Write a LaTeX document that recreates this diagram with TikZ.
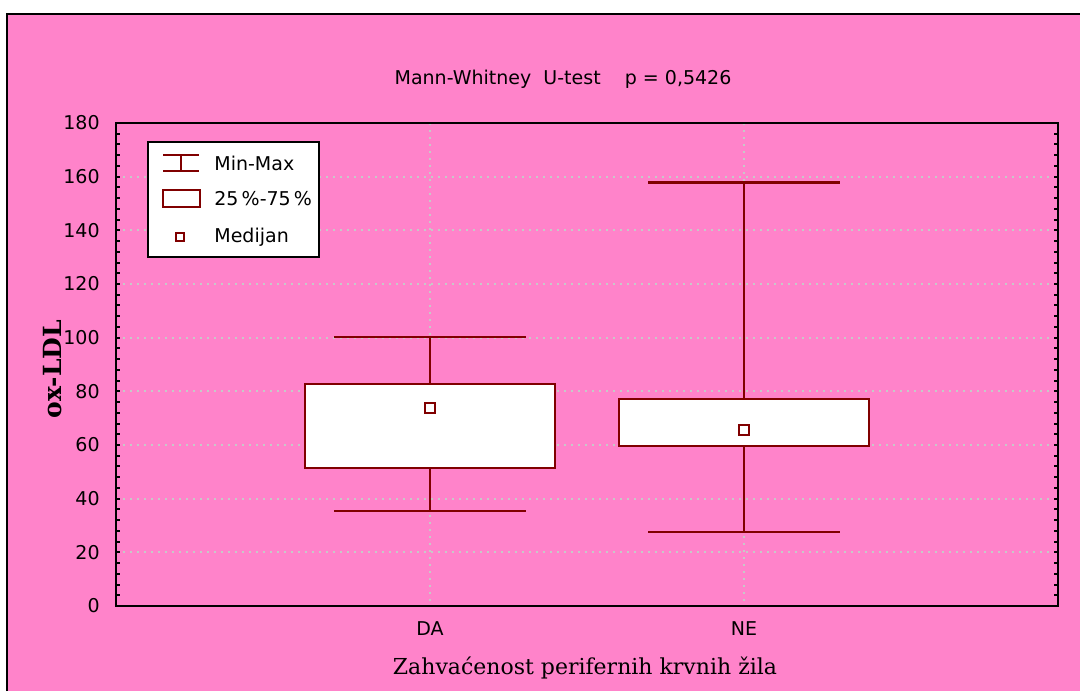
\documentclass[tikz,border=0pt]{standalone}
\usepackage{fontspec}
\setsansfont{DejaVu Sans}
\setmainfont{DejaVu Serif}
\usepackage{tikz}
\usetikzlibrary{positioning}
\definecolor{pinkbg}{RGB}{255,131,202}
\definecolor{boxred}{RGB}{128,0,0}
\definecolor{griddot}{RGB}{200,200,200}

\begin{document}
\begin{tikzpicture}[x=0.5pt,y=-0.5pt,
  declare function={yv(\v)=606-2.6833*\v;},
  lab/.style={font=\sffamily\fontsize{9.5}{9.5}\selectfont,inner sep=0pt},
  gridln/.style={griddot,line width=1pt,dash pattern=on 1pt off 2.5pt},
  boxln/.style={boxred,line width=1.1pt}]
\useasboundingbox (0,0) rectangle (1080,691);
\fill[white] (0,0) rectangle (1080,691);
\fill[pinkbg] (7,14) rectangle (1080,691);
\draw[line width=1.2pt] (7,691) -- (7,14) -- (1080,14);
% plot area corners
\coordinate (PA) at (116,123);
\coordinate (PB) at (1058,606);
% grid
\foreach \v in {20,40,...,160}
  \draw[gridln] (116,{yv(\v)}) -- (1058,{yv(\v)});
\foreach \xc in {430,744}
  \draw[gridln] (\xc,123) -- (\xc,606);
% boxes
\foreach \xc/\mn/\qa/\md/\qb/\mx in {430/35.4/51.4/73.8/82.7/100.2,744/27.6/59.6/65.6/77.1/157.8}{
  \draw[boxln] (\xc,{yv(\mn)}) -- (\xc,{yv(\mx)});
  \draw[boxln] (\xc-96,{yv(\mn)}) -- (\xc+96,{yv(\mn)});
  \draw[boxln] (\xc-96,{yv(\mx)}) -- (\xc+96,{yv(\mx)});
  \draw[boxln,fill=white] (\xc-125,{yv(\qa)}) rectangle (\xc+125,{yv(\qb)});
  \draw[boxln,fill=white] (\xc-5,{yv(\md)-5}) rectangle (\xc+5,{yv(\md)+5});
}
% legend
\draw[line width=0.9pt,fill=white] (148,142) rectangle (319,257);
\draw[boxln] (163,155) -- (199,155) (163,171) -- (199,171) (181,155) -- (181,171);
\draw[boxln] (163,190) rectangle (200,207);
\draw[boxln] (176,233) rectangle (184,241);
\node[lab,anchor=west] (lgA) at (214,163) {Min-Max};
\node[lab,anchor=west] (lgB) at (214,199) {25\,\%-75\,\%};
\node[lab,anchor=west] (lgC) at (214,237) {Medijan};
% axes
\draw[line width=1pt] (PA) rectangle (PB);
\foreach \v in {0,4,...,180}{
  \draw[line width=1pt] (116,{yv(\v)}) -- ++(4,0);
  \draw[line width=1pt] (1058,{yv(\v)}) -- ++(-4,0);
}
\foreach \v in {0,20,...,180}
  \node[lab,anchor=east] (yt\v) at (100,{yv(\v)}) {\v};
\node[lab] (da) at (430,629) {DA};
\node[lab] (ne) at (744,629) {NE};
\node[lab] (title) at (563,79) {Mann-Whitney\ \ U-test\ \ \ \ p = 0,5426};
\node[font=\fontsize{11}{11}\selectfont,inner sep=0pt] (xlab) at (585,668) {Zahvaćenost perifernih krvnih žila};
\node[font=\bfseries\fontsize{12.5}{12.5}\selectfont,inner sep=0pt,rotate=90] (ylab) at (53,369) {ox-LDL};
\end{tikzpicture}
\end{document}
